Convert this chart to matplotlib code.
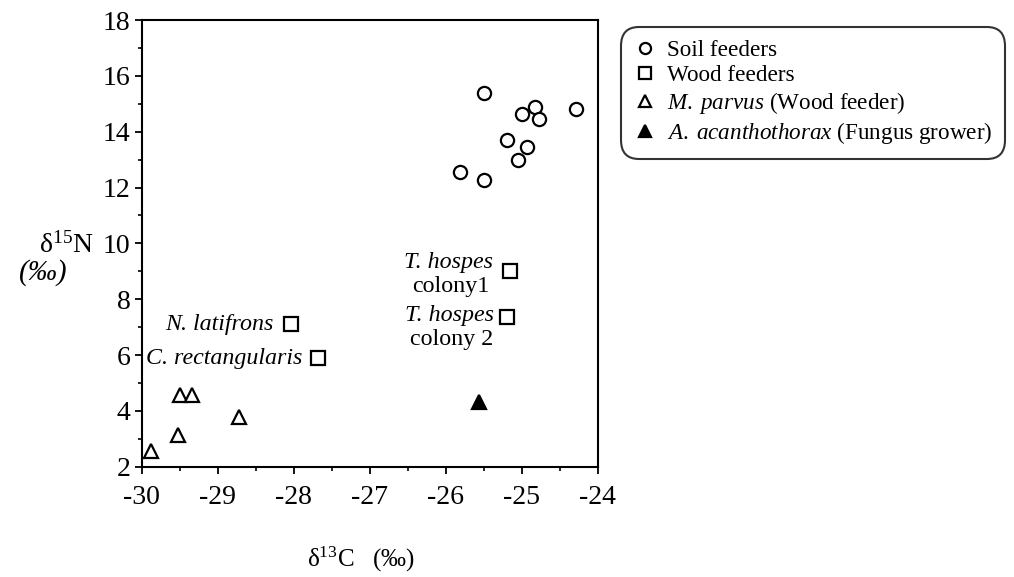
import matplotlib
matplotlib.use("Agg")
import matplotlib.pyplot as plt
from matplotlib.lines import Line2D
from matplotlib.ticker import MultipleLocator

plt.rcParams.update({
    "font.family": ["Liberation Serif", "DejaVu Serif"],
    "mathtext.fontset": "custom",
    "mathtext.rm": "Liberation Serif",
    "mathtext.it": "Liberation Serif:italic",
})

# soil feeders (open circles)
soil_c = [-25.5, -25.0, -24.83, -24.77, -24.29, -25.2, -24.93, -25.05, -25.81, -25.5]
soil_n = [15.4, 14.65, 14.87, 14.45, 14.81, 13.69, 13.45, 13.0, 12.57, 12.27]
# wood feeders (open squares)
wood_names = ["T. hospes colony1", "T. hospes colony 2", "N. latifrons", "C. rectangularis"]
wood_c = [-25.16, -25.19, -28.03, -27.68]
wood_n = [9.02, 7.37, 7.11, 5.88]
# M. parvus (open triangles)
mp_c = [-29.5, -29.34, -29.52, -28.72, -29.88]
mp_n = [4.55, 4.55, 3.15, 3.77, 2.57]
# A. acanthothorax (filled triangle)
aa_c = [-25.56]
aa_n = [4.3]

fig = plt.figure(figsize=(10.14, 5.77), dpi=100)
ax = fig.add_axes([0.1397, 0.1912, 0.4498, 0.7741])

mk = dict(linestyle="none", markersize=9.5, markeredgewidth=1.6, markeredgecolor="black")
ax.plot(soil_c, soil_n, marker="o", markerfacecolor="white", **mk)
ax.plot(wood_c, wood_n, marker="s", markerfacecolor="white", **mk)
ax.plot(mp_c, mp_n, marker="^", markerfacecolor="white", **mk)
ax.plot(aa_c, aa_n, marker="^", markerfacecolor="black", **mk)

ax.set_xlim(-30, -24)
ax.set_ylim(2, 18)
ax.xaxis.set_major_locator(MultipleLocator(1))
ax.xaxis.set_minor_locator(MultipleLocator(0.5))
ax.yaxis.set_major_locator(MultipleLocator(2))
ax.yaxis.set_minor_locator(MultipleLocator(1))
ax.tick_params(which="major", direction="out", length=5, width=1.3, labelsize=20, pad=3)
ax.tick_params(which="minor", direction="out", length=3, width=1.2)
ax.tick_params(axis="x", pad=8)
for s in ax.spines.values():
    s.set_linewidth(1.5)

ax.set_xticklabels([f"{int(v)}" for v in ax.get_xticks()])

# point labels
fs = 17.3
ax.text(-25.38, 9.33, "T. hospes", style="italic", fontsize=fs, ha="right", va="center")
ax.text(-25.94, 8.44, "colony1", fontsize=fs, ha="center", va="center")
ax.text(-25.37, 7.43, "T. hospes", style="italic", fontsize=fs, ha="right", va="center")
ax.text(-25.92, 6.57, "colony 2", fontsize=fs, ha="center", va="center")
ax.text(-28.27, 7.11, "N. latifrons", style="italic", fontsize=fs, ha="right", va="center")
ax.text(-27.89, 5.89, "C. rectangularis", style="italic", fontsize=fs, ha="right", va="center")

# axis labels
fig.text(0.065, 0.575, r"δ$^{15}$N", fontsize=20, ha="center", va="center")
fig.text(0.043, 0.527, "(‰)", fontsize=21, style="italic", ha="center", va="center")
fig.text(0.356, 0.03, r"δ$^{13}$C   (‰)", fontsize=18, ha="center", va="center")

handles = [
    Line2D([], [], marker="o", markerfacecolor="white", **mk),
    Line2D([], [], marker="s", markerfacecolor="white", **mk),
    Line2D([], [], marker="^", markerfacecolor="white", **mk),
    Line2D([], [], marker="^", markerfacecolor="black", **mk),
]
labels = ["Soil feeders", "Wood feeders",
          r"$\mathit{M.\;parvus}$ (Wood feeder)",
          r"$\mathit{A.\;acanthothorax}$ (Fungus grower)"]
for h in handles:
    h.set_markersize(8)
leg = fig.legend(handles, labels, loc="upper left", bbox_to_anchor=(0.612, 0.953),
                 fontsize=16.7, frameon=True, fancybox=True, handlelength=1.0,
                 handletextpad=0.45, labelspacing=0.17, borderpad=0.55,
                 borderaxespad=0)
leg.get_frame().set_edgecolor("black")
leg.get_frame().set_linewidth(1.5)
leg.get_frame().set_boxstyle("round,pad=0,rounding_size=0.8")

fig.savefig("out.png", dpi=100)
